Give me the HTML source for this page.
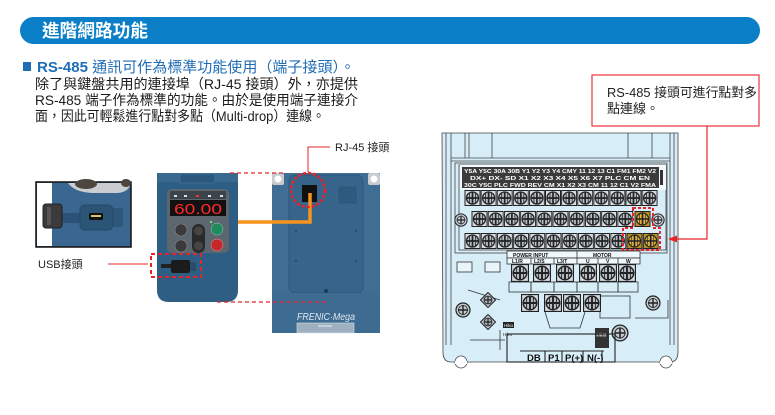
<!DOCTYPE html>
<html><head><meta charset="utf-8"><style>
html,body{margin:0;padding:0;background:#fff;width:775px;height:415px;overflow:hidden}
svg{display:block}
text{font-family:"Liberation Sans","Noto Sans CJK TC",sans-serif}
</style></head><body>
<svg width="775" height="415" viewBox="0 0 775 415" xmlns="http://www.w3.org/2000/svg">
<defs>
<symbol id="s" viewBox="0 0 16 16"><rect x="0.5" y="0.5" width="15" height="15" fill="#d5dde3" stroke="#222"/><circle cx="8" cy="8" r="6" fill="#b8c1c8" stroke="#222" stroke-width="1.3"/><path d="M8 2.5v11M2.5 8h11" stroke="#222" stroke-width="1.7"/><path d="M5 3.5v9M11 3.5v9" stroke="#222" stroke-width="0.8"/></symbol>
<symbol id="g" viewBox="0 0 16 16"><rect x="0.5" y="0.5" width="15" height="15" fill="#b98f25" stroke="#222"/><circle cx="8" cy="8" r="6" fill="#ddb040" stroke="#222" stroke-width="1.2"/><path d="M8 2.5v11M2.5 8h11" stroke="#222" stroke-width="1.6"/><path d="M5 3.5v9M11 3.5v9" stroke="#222" stroke-width="0.6"/></symbol>
<symbol id="r" viewBox="0 0 16 16"><circle cx="8" cy="8" r="7" fill="#c3ccd3" stroke="#222" stroke-width="1.2"/><circle cx="8" cy="8" r="4.5" fill="none" stroke="#222" stroke-width="0.8"/><path d="M8 3v10M3 8h10" stroke="#222" stroke-width="1.4"/></symbol>
<symbol id="d" viewBox="0 0 16 16"><path d="M8 0.5L15.5 8L8 15.5L0.5 8Z" fill="#c3ccd3" stroke="#222"/><circle cx="8" cy="8" r="4" fill="#aab4bc" stroke="#222" stroke-width="0.8"/><path d="M8 4v8M4 8h8" stroke="#222" stroke-width="1.2"/></symbol>
</defs>

<!-- header -->
<rect x="20" y="17" width="740" height="27" rx="13.5" fill="#0a7fc7"/>
<text x="42" y="37" font-size="18" font-weight="bold" fill="#fff" textLength="106" lengthAdjust="spacingAndGlyphs">進階網路功能</text>

<rect x="23" y="62" width="8" height="9" fill="#1f6db5"/>
<text x="37" y="72" font-size="14.7" fill="#1f6db5" textLength="318" lengthAdjust="spacingAndGlyphs"><tspan font-weight="bold">RS-485</tspan> 通訊可作為標準功能使用（端子接頭）。</text>
<text x="35" y="89" font-size="14" fill="#1d1a1b" textLength="323" lengthAdjust="spacingAndGlyphs">除了與鍵盤共用的連接埠（RJ-45 接頭）外，亦提供</text>
<text x="35" y="105" font-size="14" fill="#1d1a1b" textLength="323" lengthAdjust="spacingAndGlyphs">RS-485 端子作為標準的功能。由於是使用端子連接介</text>
<text x="35" y="121" font-size="14" fill="#1d1a1b" textLength="290" lengthAdjust="spacingAndGlyphs">面，因此可輕鬆進行點對多點（Multi-drop）連線。</text>

<!-- callout -->
<rect x="592" y="75" width="167" height="51" fill="none" stroke="#e8323c" stroke-width="1.2"/>
<text x="607" y="97" font-size="13" fill="#222" textLength="150" lengthAdjust="spacingAndGlyphs">RS-485 接頭可進行點對多</text>
<text x="607" y="113" font-size="13" fill="#222">點連線。</text>

<!-- inset photo -->
<rect x="36" y="182" width="95" height="65" fill="#3a6790" stroke="#111" stroke-width="1.5"/>
<rect x="37" y="183" width="15" height="63" fill="#fff"/>
<path d="M68,183 Q74,192 92,193 H118 Q127,192 130,186 V183 Z" fill="#c9cdd1"/>
<ellipse cx="86" cy="184" rx="11" ry="5" fill="#4d463f"/>
<ellipse cx="126" cy="183" rx="5" ry="4" fill="#4d463f"/>
<rect x="62" y="213" width="20" height="10" fill="#2b5276"/>
<rect x="43" y="204" width="19" height="24" rx="3" fill="#3b3b3b" stroke="#222"/>
<rect x="47" y="207" width="4" height="18" fill="#555"/>
<rect x="113" y="208" width="10" height="19" rx="2" fill="#2d587c"/>
<rect x="80" y="205" width="33" height="25" rx="5" fill="#2b5477" stroke="#244a6a"/>
<rect x="89" y="213" width="14" height="7" rx="1.5" fill="#111"/>
<rect x="91" y="215" width="10" height="2" fill="#d9c36a"/>

<text x="38" y="268" font-size="11" fill="#222">USB接頭</text>
<path d="M108,264 H148" stroke="#e8232a" stroke-width="1"/>

<!-- keypad -->
<path d="M157,179 Q157,173 163,173 H232 Q238,173 238,179 V290 Q238,302 226,302 H169 Q157,302 157,290 Z" fill="#2f5e84"/>
<rect x="157" y="173" width="81" height="9" fill="#3a6990"/>
<rect x="180" y="174" width="35" height="9" fill="#2b587c" stroke="#4a78a0" stroke-width="0.6"/>
<rect x="167" y="189" width="62" height="64" rx="5" fill="#5c666f"/>
<rect x="170" y="191" width="56" height="8" fill="#3c434a"/>
<rect x="174" y="195" width="3" height="2" fill="#ddd"/><rect x="184" y="195" width="3" height="2" fill="#ddd"/><rect x="196" y="195" width="3" height="2" fill="#e33"/><rect x="208" y="195" width="3" height="2" fill="#ddd"/><rect x="220" y="195" width="3" height="2" fill="#ddd"/>
<rect x="170" y="200" width="56" height="16" fill="#111"/>
<text x="174" y="214" font-size="15" fill="#ff2b2b" textLength="48" lengthAdjust="spacingAndGlyphs">60.00</text>
<circle cx="181" cy="230" r="6" fill="#3a3a3a" stroke="#888" stroke-width="0.6"/>
<circle cx="181" cy="246" r="6" fill="#3a3a3a" stroke="#888" stroke-width="0.6"/>
<rect x="192" y="224" width="13" height="29" rx="6.5" fill="#2a2a2a"/>
<circle cx="198.5" cy="231" r="4.5" fill="#454545"/>
<circle cx="198.5" cy="246" r="4.5" fill="#454545"/>
<circle cx="217" cy="229" r="6" fill="#1f8a5c" stroke="#9cc" stroke-width="0.5"/>
<circle cx="217" cy="245" r="6" fill="#c4282c" stroke="#e99" stroke-width="0.5"/>
<circle cx="211" cy="222" r="1.2" fill="#7d7"/>
<!-- USB plug on keypad -->
<rect x="161" y="264" width="11" height="4" fill="#222"/>
<rect x="171" y="260" width="19" height="13" rx="2" fill="#1b1b1b"/>
<rect x="190" y="262" width="6" height="9" fill="#2a4c68"/>
<rect x="151" y="254" width="50" height="23" fill="none" stroke="#e8232a" stroke-width="2" stroke-dasharray="4 3"/>

<!-- back panel -->
<rect x="272" y="173" width="108" height="160" fill="#3f6d93"/>
<rect x="289" y="175" width="74" height="118" rx="6" fill="#36648b" stroke="#2c5477" stroke-width="0.8"/>
<rect x="272" y="293" width="108" height="40" fill="#3d6b91"/>
<rect x="272" y="173" width="12" height="12" rx="2" fill="#c8ccd0"/>
<circle cx="278" cy="179" r="3.5" fill="#fff"/>
<rect x="368" y="173" width="12" height="12" rx="2" fill="#c8ccd0"/>
<circle cx="374" cy="179" r="3.5" fill="#fff"/>
<rect x="302" y="185" width="15" height="17" fill="#111"/>
<rect x="339" y="187" width="17" height="16" fill="#2f5a7f" stroke="#28506f" stroke-width="0.6"/>
<circle cx="296" cy="231" r="1.2" fill="#2a4f70"/><circle cx="356" cy="231" r="1.2" fill="#2a4f70"/>
<circle cx="296" cy="261" r="1.2" fill="#2a4f70"/><circle cx="356" cy="261" r="1.2" fill="#2a4f70"/>
<circle cx="326" cy="291" r="2" fill="#1d3a55"/>
<text x="297" y="320" font-size="10" font-style="italic" fill="#dfe8ef" textLength="58" lengthAdjust="spacingAndGlyphs">FRENIC·Mega</text>
<rect x="297" y="323" width="57" height="10" fill="#9fb1c0" stroke="#d6dee5" stroke-width="0.6"/>
<text x="318" y="327" font-size="3" fill="#fff">WARNING</text>

<!-- orange cable -->
<polyline points="238,222 310,222 310,193" fill="none" stroke="#f7941d" stroke-width="3.5"/>
<circle cx="308" cy="190" r="17" fill="none" stroke="#e8232a" stroke-width="2.5" stroke-dasharray="3 2"/>
<path d="M330,147 H308 V172" fill="none" stroke="#e8232a" stroke-width="1"/>
<text x="335" y="151" font-size="11" fill="#222">RJ-45 接頭</text>
<line x1="230" y1="173" x2="283" y2="173" stroke="#e8232a" stroke-width="1.3" stroke-dasharray="4 3"/>
<line x1="217" y1="302" x2="328" y2="302" stroke="#e8232a" stroke-width="1.3" stroke-dasharray="4 3"/>

<!-- terminal diagram -->
<path d="M442,133 H678 V352 Q678,362 670,362 H451 Q443,362 443,352 Z" fill="#d7eef9" stroke="#444" stroke-width="0.8"/>
<circle cx="461" cy="362" r="6" fill="#fff" stroke="#444" stroke-width="0.8"/>
<circle cx="666" cy="362" r="6" fill="#fff" stroke="#444" stroke-width="0.8"/>
<rect x="455" y="361" width="12" height="3" fill="#fff"/><rect x="660" y="361" width="12" height="3" fill="#fff"/>
<g stroke="#444" stroke-width="0.8" fill="none">
<path d="M446,133V345M451,133V345M465,133V158M469,133V158M492,133V158M628,133V158M652,133V158M670,133V345M674,133V345"/>
<path d="M451,158H670M451,161H670"/>
<rect x="455" y="163" width="212" height="90"/>
<rect x="459" y="165" width="207" height="85"/>
</g>
<rect x="460" y="165" width="206" height="25" fill="#f2f8fb"/>
<rect x="462" y="167" width="197" height="21" fill="#3b3b3b"/>
<g font-size="5.2" fill="#fff" font-weight="bold">
<text x="464" y="173" textLength="192" lengthAdjust="spacingAndGlyphs">Y5A Y5C 30A 30B Y1 Y2 Y3 Y4 CMY 11 12 13 C1 FM1 FM2 V2</text>
<text x="470" y="180" textLength="180" lengthAdjust="spacingAndGlyphs">DX+ DX- SD X1 X2 X3 X4 X5 X6 X7 PLC CM EN</text>
<text x="464" y="187" textLength="192" lengthAdjust="spacingAndGlyphs">30C Y5C PLC FWD REV CM X1 X2 X3 CM 11 12 C1 V2 FMA</text>
</g>
<rect x="660" y="170" width="3" height="15" fill="#333"/>
<!-- row 1 -->
<use href="#s" x="464.5" y="190" width="16" height="16"/><use href="#s" x="480.6" y="190" width="16" height="16"/><use href="#s" x="496.7" y="190" width="16" height="16"/><use href="#s" x="512.8" y="190" width="16" height="16"/><use href="#s" x="528.9" y="190" width="16" height="16"/><use href="#s" x="545" y="190" width="16" height="16"/><use href="#s" x="561.1" y="190" width="16" height="16"/><use href="#s" x="577.2" y="190" width="16" height="16"/><use href="#s" x="593.3" y="190" width="16" height="16"/><use href="#s" x="609.4" y="190" width="16" height="16"/><use href="#s" x="625.5" y="190" width="16" height="16"/><use href="#s" x="641.6" y="190" width="16" height="16"/>
<!-- row 2 -->
<use href="#s" x="471.5" y="211" width="16" height="16"/><use href="#s" x="487.7" y="211" width="16" height="16"/><use href="#s" x="503.9" y="211" width="16" height="16"/><use href="#s" x="520.1" y="211" width="16" height="16"/><use href="#s" x="536.3" y="211" width="16" height="16"/><use href="#s" x="552.5" y="211" width="16" height="16"/><use href="#s" x="568.7" y="211" width="16" height="16"/><use href="#s" x="584.9" y="211" width="16" height="16"/><use href="#s" x="601.1" y="211" width="16" height="16"/><use href="#s" x="617.3" y="211" width="16" height="16"/><use href="#g" x="634.5" y="211" width="16" height="16"/>
<use href="#r" x="454" y="213" width="14" height="14"/><use href="#r" x="651" y="213" width="14" height="14"/>
<!-- row 3 -->
<use href="#s" x="464.5" y="233" width="16" height="16"/><use href="#s" x="480.7" y="233" width="16" height="16"/><use href="#s" x="496.9" y="233" width="16" height="16"/><use href="#s" x="513.1" y="233" width="16" height="16"/><use href="#s" x="529.3" y="233" width="16" height="16"/><use href="#s" x="545.5" y="233" width="16" height="16"/><use href="#s" x="561.7" y="233" width="16" height="16"/><use href="#s" x="577.9" y="233" width="16" height="16"/><use href="#s" x="594.1" y="233" width="16" height="16"/><use href="#s" x="610.3" y="233" width="16" height="16"/><use href="#g" x="626.5" y="233" width="16" height="16"/><use href="#g" x="642.7" y="233" width="16" height="16"/>
<path d="M633,208 H653 V228 H660 V250 H623 V228 H633 Z" fill="none" stroke="#e8232a" stroke-width="2" stroke-dasharray="3 2"/>

<!-- power section -->
<g stroke="#333" stroke-width="0.8" fill="none">
<rect x="507" y="251" width="133" height="7" fill="#eef7fc"/>
<rect x="507" y="258" width="133" height="6" fill="#eef7fc"/>
<path d="M577,251V264M531,258V264M554,258V264M598,258V264M618,258V264"/>
<rect x="457" y="262" width="15" height="10" fill="#eaf5fb"/>
<rect x="485" y="262" width="15" height="10" fill="#eaf5fb"/>
<rect x="509" y="282" width="22" height="10"/><rect x="531" y="282" width="23" height="10"/><rect x="554" y="282" width="23" height="10"/><rect x="577" y="282" width="21" height="10"/><rect x="598" y="282" width="20" height="10"/><rect x="618" y="282" width="20" height="10"/>
<path d="M545,312 L550,328 H580 L585,312"/>
<rect x="600" y="296" width="30" height="22"/>
<path d="M468,290 L500,300 M470,340 H505 M500,330 V350"/>
<path d="M635,318 H668 V300"/>
</g>
<g font-size="5" fill="#111" font-weight="bold">
<text x="513" y="257">POWER INPUT</text>
<text x="593" y="257">MOTOR</text>
<text x="512" y="263">L1/R</text><text x="534" y="263">L2/S</text><text x="557" y="263">L3/T</text><text x="586" y="263">U</text><text x="606" y="263">V</text><text x="626" y="263">W</text>
</g>
<use href="#s" x="511" y="264" width="18" height="18"/><use href="#s" x="533" y="264" width="18" height="18"/><use href="#s" x="556" y="264" width="18" height="18"/><use href="#s" x="579" y="264" width="18" height="18"/><use href="#s" x="599" y="264" width="18" height="18"/><use href="#s" x="618" y="264" width="18" height="18"/>
<use href="#s" x="521" y="294" width="18" height="18"/><use href="#s" x="544" y="294" width="18" height="18"/><use href="#s" x="563" y="294" width="18" height="18"/><use href="#s" x="583" y="294" width="18" height="18"/>
<use href="#d" x="480" y="292" width="16" height="16"/><use href="#d" x="480" y="314" width="16" height="16"/>
<use href="#r" x="455" y="302" width="16" height="16"/><use href="#r" x="645" y="295" width="16" height="16"/><use href="#r" x="611" y="324" width="18" height="18"/>
<rect x="503" y="322" width="11" height="6" fill="#222"/><text x="504" y="327" font-size="4.5" fill="#fff">Hiko</text>
<text x="503" y="336" font-size="4.5" fill="#222">Hiko</text>
<rect x="595" y="328" width="14" height="20" fill="#333"/>
<text x="596" y="336" font-size="3.5" fill="#fff">制動器</text>
<g stroke="#222" stroke-width="1.1" fill="none">
<rect x="507" y="334" width="108" height="28"/>
<path d="M520,351H604M545,351V362M562,351V362M583,351V362M602,351V362"/>
</g>
<g font-size="9.5" font-weight="bold" fill="#111">
<text x="527" y="361">DB</text><text x="548" y="361">P1</text><text x="565" y="361">P(+)</text><text x="587" y="361">N(-)</text>
</g>

<!-- callout connector -->
<path d="M707,126 V239 H676" fill="none" stroke="#e8232a" stroke-width="1.2"/>
<polygon points="668,239 677,235.5 677,242.5" fill="#e8232a"/>
</svg>
</body></html>
